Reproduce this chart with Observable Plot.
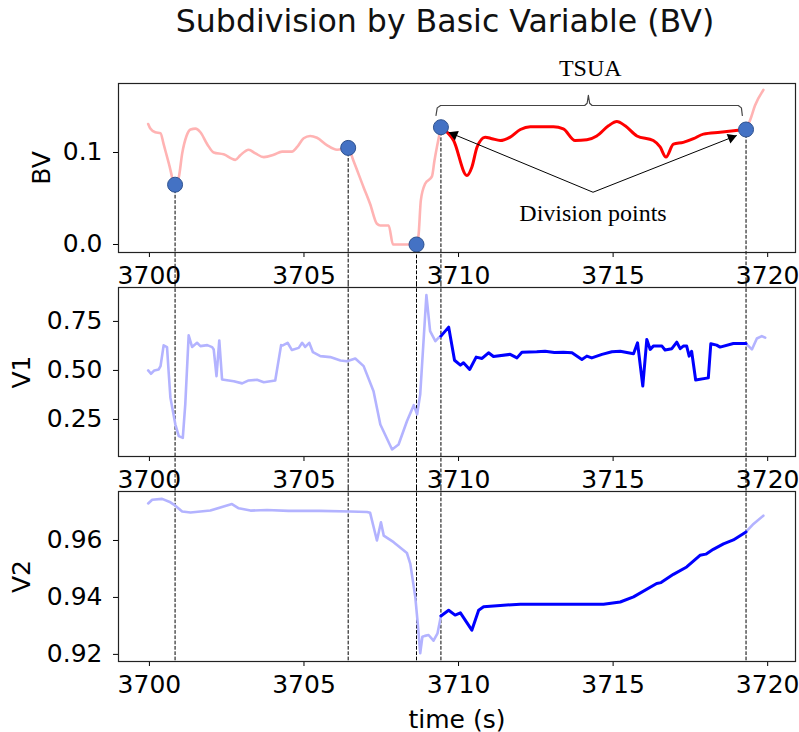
<!DOCTYPE html>
<html><head><meta charset="utf-8">
<script src="https://cdn.jsdelivr.net/npm/d3@7"></script>
<script src="https://cdn.jsdelivr.net/npm/@observablehq/plot@0.6"></script>
<style>
html,body{margin:0;padding:0;background:#fff;}
body{width:799px;height:732px;overflow:hidden;position:relative;font-family:"DejaVu Sans",sans-serif;}
#title{position:absolute;left:0;top:6px;width:890px;text-align:center;font-size:31.6px;line-height:31.6px;color:#111;}
.panel{position:absolute;left:0;width:799px;}
.panel svg{overflow:visible;background:transparent;}
</style></head>
<body>
<div id="title">Subdivision by Basic Variable (BV)</div>
<div class="panel" id="p1" style="top:45px"></div>
<div class="panel" id="p2" style="top:283px"></div>
<div class="panel" id="p3" style="top:487px"></div>
<script>
// ---------- data ----------
const xTicks = [3700, 3705, 3710, 3715, 3720];
const xDomain = [3699.0, 3720.9];

const divTimes = [3700.83, 3706.43, 3708.64, 3709.43, 3719.30];
const divBV    = [0.065, 0.105, 0.0, 0.1275, 0.125];

const bvTime = [3699.96,3700.03,3700.19,3700.36,3700.46,3700.63,3700.83,3700.95,3701.06,3701.20,3701.33,3701.49,3701.65,3701.87,3702.08,3702.40,3702.78,3702.94,3703.21,3703.43,3703.70,3704.02,3704.29,3704.61,3704.78,3704.99,3705.20,3705.42,3705.74,3706.07,3706.43,3706.60,3706.93,3707.14,3707.36,3707.47,3707.74,3707.88,3708.64,3708.71,3708.78,3708.92,3709.14,3709.22,3709.43,3709.84,3710.27,3710.43,3710.60,3710.86,3711.08,3711.35,3711.67,3712.00,3712.32,3713.07,3713.39,3713.77,3714.15,3714.47,3714.85,3715.12,3715.39,3715.77,3716.30,3716.52,3716.71,3716.95,3717.27,3717.60,3717.92,3718.46,3719.30,3719.43,3719.59,3719.86];
const bvValue = [0.131,0.126,0.122,0.121,0.109,0.088,0.065,0.073,0.099,0.118,0.125,0.126,0.122,0.109,0.100,0.098,0.092,0.097,0.103,0.099,0.095,0.0975,0.101,0.101,0.106,0.1155,0.118,0.116,0.108,0.103,0.105,0.091,0.062,0.044,0.0225,0.0207,0.0207,0.0,0.0,0.0116,0.048,0.066,0.074,0.091,0.1275,0.113,0.075,0.084,0.106,0.1167,0.115,0.113,0.1167,0.125,0.128,0.128,0.1257,0.113,0.1138,0.118,0.129,0.1337,0.129,0.118,0.113,0.106,0.095,0.109,0.111,0.115,0.120,0.122,0.125,0.135,0.151,0.168];

const v1Time = [3699.96,3700.05,3700.16,3700.30,3700.36,3700.46,3700.57,3700.62,3700.68,3700.84,3700.95,3701.08,3701.16,3701.27,3701.38,3701.54,3701.65,3701.87,3702.03,3702.08,3702.17,3702.26,3702.35,3702.73,3703.00,3703.21,3703.48,3703.70,3704.07,3704.26,3704.30,3704.47,3704.61,3704.83,3704.94,3705.04,3705.17,3705.29,3705.53,3705.85,3706.18,3706.39,3706.66,3706.93,3707.25,3707.47,3707.85,3708.06,3708.33,3708.55,3708.66,3708.76,3708.96,3709.08,3709.25,3709.35,3709.43,3709.68,3709.87,3710.06,3710.16,3710.36,3710.57,3710.76,3710.97,3711.13,3711.67,3711.89,3712.05,3712.53,3712.80,3713.10,3713.39,3713.67,3713.99,3714.15,3714.31,3714.64,3714.96,3715.23,3715.66,3715.79,3715.96,3716.09,3716.20,3716.30,3716.58,3716.68,3716.90,3717.06,3717.17,3717.27,3717.38,3717.46,3717.54,3717.67,3718.08,3718.16,3718.35,3718.46,3718.89,3719.30,3719.49,3719.65,3719.81,3719.92];
const v1Value = [0.500,0.483,0.500,0.505,0.522,0.628,0.619,0.497,0.360,0.224,0.165,0.156,0.327,0.679,0.620,0.641,0.624,0.629,0.619,0.607,0.471,0.653,0.454,0.445,0.434,0.449,0.452,0.440,0.449,0.629,0.627,0.641,0.604,0.615,0.641,0.620,0.641,0.593,0.573,0.568,0.551,0.547,0.561,0.522,0.394,0.224,0.097,0.122,0.241,0.323,0.276,0.378,0.884,0.700,0.649,0.666,0.675,0.721,0.552,0.527,0.539,0.505,0.568,0.561,0.590,0.571,0.582,0.564,0.593,0.595,0.598,0.592,0.593,0.590,0.556,0.573,0.564,0.582,0.595,0.598,0.585,0.641,0.420,0.658,0.607,0.624,0.624,0.604,0.611,0.644,0.611,0.624,0.624,0.573,0.598,0.451,0.462,0.636,0.629,0.619,0.637,0.637,0.607,0.663,0.675,0.667];

const v2Time = [3699.96,3700.09,3700.41,3700.68,3700.79,3701.06,3701.33,3701.97,3702.40,3702.67,3702.89,3703.27,3703.80,3704.50,3705.50,3706.50,3707.04,3707.14,3707.36,3707.49,3707.58,3707.90,3708.33,3708.44,3708.60,3708.68,3708.76,3708.83,3708.91,3709.03,3709.19,3709.32,3709.43,3709.68,3709.89,3710.06,3710.43,3710.65,3710.81,3711.35,3712.00,3714.69,3715.23,3715.66,3716.41,3716.55,3716.95,3717.38,3717.81,3718.00,3718.24,3718.57,3718.89,3719.30,3719.54,3719.86];
const v2Value = [0.9730,0.9743,0.9746,0.9734,0.9726,0.9702,0.9698,0.9705,0.9719,0.9728,0.9713,0.9705,0.9707,0.9704,0.9704,0.9702,0.9700,0.9697,0.9600,0.9664,0.9617,0.9594,0.9556,0.9518,0.9402,0.9309,0.9204,0.9262,0.9265,0.9268,0.9248,0.9274,0.9335,0.9355,0.9338,0.9346,0.9285,0.9355,0.9367,0.9372,0.9376,0.9376,0.9384,0.9402,0.9449,0.9452,0.9481,0.9507,0.9548,0.9552,0.9569,0.9588,0.9602,0.9630,0.9658,0.9687];

// annotation data
const tsuaLabel = {t: 3714.26, v: 0.1913, text: "TSUA"};
const divLabel = {t: 3714.35, v: 0.0337, text: "Division points"};
const arrowFrom = {t: 3714.35, v: 0.0568};
const arrowTips = [{t: 3709.68, v: 0.122}, {t: 3719.0, v: 0.1185}];
const braceT = [3709.27,3709.31,3709.42,3714.08,3714.16,3714.20,3714.24,3714.32,3719.05,3719.15,3719.18];
const braceV = [0.1402,0.1485,0.1511,0.1511,0.1535,0.1620,0.1535,0.1511,0.1511,0.1485,0.1402];

// ---------- helpers ----------
const tStart = divTimes[3], tEnd = divTimes[4];
function split(T, V) {
  const rows = T.map((t, i) => ({t, v: V[i]}));
  const pre = rows.filter(d => d.t <= tStart).map(d => ({...d, seg: "pre"}));
  const post = rows.filter(d => d.t >= tEnd).map(d => ({...d, seg: "post"}));
  const mid = rows.filter(d => d.t >= tStart && d.t <= tEnd);
  return {light: pre.concat(post), dark: mid};
}
const W = 799, ML = 118, MR = 4;
const font = {fontFamily: "DejaVu Sans", fontSize: "25px", color: "#000", overflow: "visible", background: "transparent"};

function makePanel(o) {
  const s = split(o.T, o.V);
  const curve = o.curve || "linear";
  return Plot.plot({
    width: W, height: o.height,
    marginLeft: ML, marginRight: MR, marginTop: o.mt, marginBottom: o.mb,
    style: font,
    x: {domain: xDomain, ticks: xTicks, tickFormat: "d", tickSize: 5, tickPadding: 9,
        label: o.xLabel || null, labelAnchor: "center", labelArrow: "none", labelOffset: 66},
    y: {domain: o.yDomain, ticks: o.yTicks, tickFormat: o.yFmt, tickSize: 5, tickPadding: 11,
        label: o.yLabel, labelAnchor: "center", labelArrow: "none", labelOffset: o.labelOffset},
    marks: [
      ...o.rules,
      Plot.line(s.light, {x: "t", y: "v", z: "seg", stroke: o.lightColor, strokeWidth: 2.6, curve}),
      Plot.line(s.dark, {x: "t", y: "v", stroke: o.darkColor, strokeWidth: 3, curve}),
      ...(o.extra || []),
      Plot.frame({stroke: "#222", strokeWidth: 1.2})
    ]
  });
}

const divRows = divTimes.map((t, i) => ({t, v: divBV[i]}));
const dash = {stroke: "#000", strokeWidth: 1, strokeDasharray: "3.7,1.6"};

// panel 1 (two passes to get arrow head angles from the scales)
function panel1(heads) {
  const yDomain = [-0.0087, 0.175];
  const extra = [
    Plot.line(braceT.map((t, i) => ({t, v: braceV[i]})), {x: "t", y: "v", stroke: "#444", strokeWidth: 1.2}),
    Plot.text([tsuaLabel], {x: "t", y: "v", text: "text", fontFamily: "Liberation Serif", fontSize: 24, fill: "#000"}),
    Plot.text([divLabel], {x: "t", y: "v", text: "text", fontFamily: "Liberation Serif", fontSize: 24, fill: "#000"}),
    Plot.link(arrowTips, {x1: () => arrowFrom.t, y1: () => arrowFrom.v, x2: "t", y2: "v", stroke: "#000", strokeWidth: 1}),
    ...heads,
    Plot.dot(divRows, {x: "t", y: "v", r: 7.5, fill: "#4472c4", stroke: "#2f528f", strokeWidth: 1})
  ];
  return makePanel({
    T: bvTime, V: bvValue, height: 238, mt: 38, mb: 31, yDomain, curve: "monotone-x",
    yTicks: [0, 0.1], yFmt: ".1f", yLabel: "BV", labelOffset: 86,
    lightColor: "#ffb3b3", darkColor: "#ff0000",
    rules: [Plot.ruleX(divRows, {x: "t", y1: "v", y2: yDomain[0], insetBottom: -31, ...dash})],
    extra
  });
}
const first = panel1([]);
const sx = first.scale("x"), sy = first.scale("y");
const heads = arrowTips.map(tip => {
  const x0 = sx.apply(arrowFrom.t), y0 = sy.apply(arrowFrom.v);
  const x1 = sx.apply(tip.t), y1 = sy.apply(tip.v);
  const dx = x1 - x0, dy = y1 - y0, len = Math.hypot(dx, dy);
  const r = 3.8, area = Math.PI * r * r;
  const side = Math.sqrt(4 * area / Math.sqrt(3)), h = Math.sqrt(3) / 2 * side;
  const back = 2 * h / 3;
  const angle = Math.atan2(dx, -dy) * 180 / Math.PI;
  return Plot.dot([tip], {x: "t", y: "v", symbol: "triangle", r, fill: "#000", stroke: "none",
    rotate: angle, dx: -dx / len * back, dy: -dy / len * back});
});
document.getElementById("p1").append(panel1(heads));

document.getElementById("p2").append(makePanel({
  T: v1Time, V: v1Value, height: 204, mt: 4, mb: 31, yDomain: [0.061, 0.923],
  yTicks: [0.25, 0.5, 0.75], yFmt: ".2f", yLabel: "V1", labelOffset: 106,
  lightColor: "#b3b3ff", darkColor: "#0000ff",
  rules: [Plot.ruleX(divTimes, {insetTop: -4, insetBottom: -31, ...dash})]
}));

document.getElementById("p3").append(makePanel({
  T: v2Time, V: v2Value, height: 245, mt: 4, mb: 71, yDomain: [0.9175, 0.9772],
  yTicks: [0.92, 0.94, 0.96], yFmt: ".2f", yLabel: "V2", labelOffset: 106,
  lightColor: "#b3b3ff", darkColor: "#0000ff", xLabel: "time (s)",
  rules: [Plot.ruleX(divTimes, {insetTop: -4, ...dash})]
}));
</script>
</body></html>
